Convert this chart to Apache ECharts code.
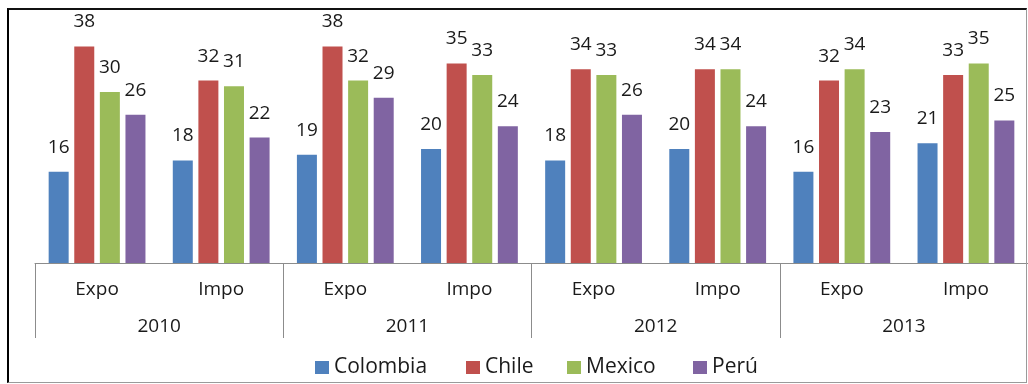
<!DOCTYPE html>
<html>
<head>
<meta charset="utf-8">
<script src="https://cdn.jsdelivr.net/npm/echarts@6/dist/echarts.min.js"></script>
<style>
  html, body { margin: 0; padding: 0; background: #fff; }
  #wrap { position: relative; width: 1028px; height: 384px; overflow: hidden; }
  #chart { position: absolute; left: 0; top: 0; width: 1028px; height: 384px; }
  #frame {
    position: absolute; left: 7px; top: 8px; width: 1017px; height: 372px;
    border-left: 2px solid #000; border-top: 2px solid #111;
    border-right: 1px solid #9a9a9a; border-bottom: 1px solid #9a9a9a;
    pointer-events: none;
  }
</style>
</head>
<body>
<div id="wrap">
  <div id="chart"></div>
  <div id="frame"></div>
</div>
<script>
// Trade flows by country, exports and imports per year
const flows = ['Expo', 'Impo', 'Expo', 'Impo', 'Expo', 'Impo', 'Expo', 'Impo'];
const years = ['2010', '2011', '2012', '2013'];
const countries = ['Colombia', 'Chile', 'Mexico', 'Perú'];

const colombia = [16, 18, 19, 20, 18, 20, 16, 21];
const chile    = [38, 32, 38, 35, 34, 34, 32, 33];
const mexico   = [30, 31, 32, 33, 33, 34, 34, 35];
const peru     = [26, 22, 29, 24, 26, 24, 23, 25];

const FONT = '"Open Sans", "Liberation Sans", sans-serif';
const TEXT = '#1a1a1a';
const AXIS = '#8c8c8c';
const COLORS = ['#4F81BD', '#C0504D', '#9BBB59', '#8064A2'];

function barSeries(name, values, color) {
  return {
    name: name,
    type: 'bar',
    data: values,
    barWidth: 20,
    barGap: '28%',
    itemStyle: { color: color },
    label: {
      show: true,
      position: 'top',
      distance: 15,
      color: TEXT,
      fontFamily: FONT,
      fontSize: 19
    }
  };
}

// one legend entry per country so each key sits at its own spot
const legendLefts = [315, 466, 567, 693];
const legends = countries.map((name, i) => ({
  data: [name],
  left: legendLefts[i],
  bottom: 6,
  icon: 'rect',
  itemWidth: 14,
  itemHeight: 13,
  itemGap: 0,
  padding: 0,
  textStyle: { color: TEXT, fontFamily: FONT, fontSize: 21 }
}));

const chart = echarts.init(document.getElementById('chart'), null, { renderer: 'canvas' });

chart.setOption({
  animation: false,
  backgroundColor: '#fff',
  grid: { left: 35, right: -3, top: 35, bottom: 121 },
  legend: legends,
  xAxis: [
    {
      type: 'category',
      data: flows,
      position: 'bottom',
      axisLine: { show: true, lineStyle: { color: AXIS, width: 1 } },
      axisTick: { show: false },
      axisLabel: { color: TEXT, fontFamily: FONT, fontSize: 19, margin: 17 }
    },
    {
      type: 'category',
      data: years,
      position: 'bottom',
      axisLine: { show: false },
      axisTick: { show: true, length: 75, lineStyle: { color: AXIS, width: 1 } },
      axisLabel: { color: TEXT, fontFamily: FONT, fontSize: 19, margin: 54 }
    }
  ],
  yAxis: {
    type: 'value',
    min: 0,
    max: 40,
    show: false,
    splitLine: { show: false }
  },
  series: [
    barSeries(countries[0], colombia, COLORS[0]),
    barSeries(countries[1], chile, COLORS[1]),
    barSeries(countries[2], mexico, COLORS[2]),
    barSeries(countries[3], peru, COLORS[3])
  ]
});
</script>
</body>
</html>
